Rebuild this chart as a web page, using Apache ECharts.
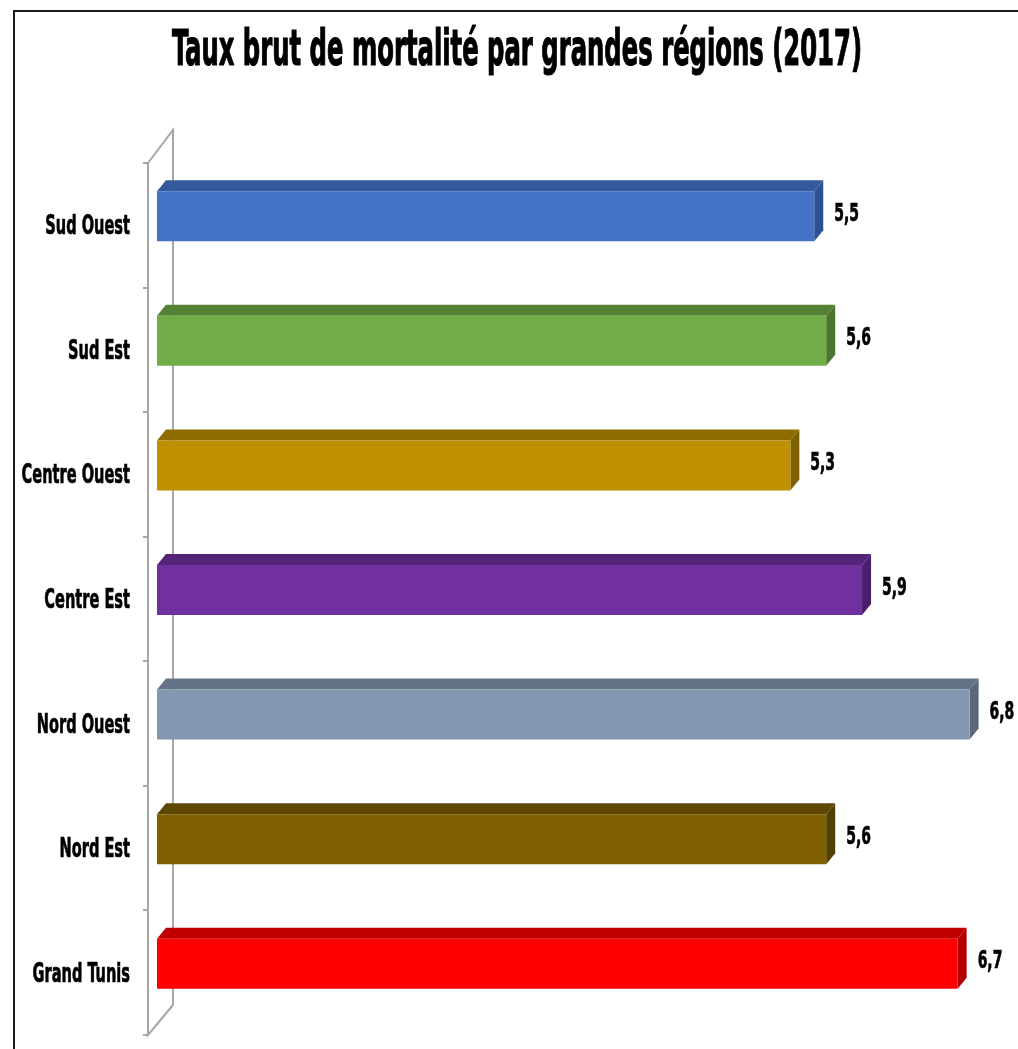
<!DOCTYPE html>
<html>
<head>
<meta charset="utf-8">
<script src="https://cdn.jsdelivr.net/npm/echarts@6/dist/echarts.min.js"></script>
<style>html,body{margin:0;padding:0;background:#fff}#c{width:1018px;height:1049px}</style>
</head>
<body>
<div id="c"></div>
<script>
// ---- data ----
const title = 'Taux brut de mortalité par grandes régions (2017)';
const categories = ['Sud Ouest', 'Sud Est', 'Centre Ouest', 'Centre Est', 'Nord Ouest', 'Nord Est', 'Grand Tunis'];
const values = [5.5, 5.6, 5.3, 5.9, 6.8, 5.6, 6.7];
// ---- palette ----
const frontColors = ['#4472C4', '#70AD47', '#BF9000', '#7030A0', '#8497B0', '#7F6000', '#FF0000'];
const topColors   = ['#34599C', '#548235', '#8F6C00', '#53247A', '#637286', '#5E4700', '#C00000'];
const sideColors  = ['#2E5090', '#4C7630', '#7F6000', '#4A1F6E', '#5A687A', '#524000', '#B00000'];

const FONT = '"Liberation Sans Narrow","DejaVu Sans Condensed","Liberation Sans",sans-serif';
const DX = 9, DY = 11;
const WALL = '#A6A6A6';

const chart = echarts.init(document.getElementById('c'), null, {renderer: 'canvas'});

chart.setOption({
  animation: false,
  backgroundColor: '#fff',
  graphic: [
    {type: 'line', shape: {x1: 14, y1: 11, x2: 1018, y2: 11}, style: {stroke: '#1a1a1a', lineWidth: 2}},
    {type: 'line', shape: {x1: 14, y1: 10, x2: 14, y2: 1049}, style: {stroke: '#1a1a1a', lineWidth: 2}},
    {type: 'text', x: 517, y: 52, scaleX: 0.54, style: {
      text: title, font: 'bold 50px ' + FONT, fill: '#000', textAlign: 'center', textVerticalAlign: 'middle',
      stroke: '#000', lineWidth: 1.2}}
  ],
  grid: {left: 157, top: 163, bottom: 14, right: 24.5, containLabel: false},
  xAxis: {type: 'value', min: 0, max: 7, show: false},
  yAxis: {
    type: 'category', data: categories, inverse: true,
    axisLine: {show: false}, axisTick: {show: false}, axisLabel: {show: false}, splitLine: {show: false}
  },
  series: [
    {
      type: 'custom', z: 1, silent: true,
      data: [[0, 0]],
      renderItem: function (params, api) {
        const cs = params.coordSys;
        const fx = cs.x - 9, bx = cs.x + 16;
        const n = categories.length;
        const children = [{
          type: 'polyline',
          shape: {points: [[bx, cs.y + cs.height - 30], [fx, cs.y + cs.height], [fx, cs.y], [bx, cs.y - 33], [bx, cs.y + cs.height - 30]]},
          style: {stroke: WALL, lineWidth: 2, fill: null}
        }];
        for (let k = 0; k <= n; k++) {
          const ty = Math.round(cs.y + k * cs.height / n);
          children.push({type: 'line', shape: {x1: fx - 5, y1: ty, x2: fx, y2: ty}, style: {stroke: WALL, lineWidth: 2}});
        }
        return {type: 'group', children: children};
      }
    },
    {
      type: 'custom', z: 3, silent: true,
      data: values.map((v, i) => [v, i]),
      renderItem: function (params, api) {
        const v = api.value(0), idx = api.value(1);
        const i = params.dataIndex;
        const p0 = api.coord([0, idx]);
        const p1 = api.coord([v, idx]);
        const cy = p0[1];
        const x0 = p0[0], x1 = p1[0];
        const top = cy - 34, bot = cy + 16;
        return {
          type: 'group',
          children: [
            {type: 'polygon', shape: {points: [[x0, top], [x0 + DX, top - DY], [x1 + DX, top - DY], [x1, top]]},
              style: {fill: topColors[i]}},
            {type: 'polygon', shape: {points: [[x1, top], [x1 + DX, top - DY], [x1 + DX, bot - DY], [x1, bot]]},
              style: {fill: sideColors[i]}},
            {type: 'rect', shape: {x: x0, y: top, width: x1 - x0, height: bot - top},
              style: {fill: frontColors[i]}},
            {type: 'text', x: x1 + DX + 11, y: cy - 11, scaleX: 0.62, style: {
              text: v.toFixed(1).replace('.', ','), font: 'bold 25px ' + FONT, fill: '#000',
              textAlign: 'left', textVerticalAlign: 'middle', stroke: '#000', lineWidth: 0.7}},
            {type: 'text', x: params.coordSys.x - 27, y: cy + 2, scaleX: 0.6, style: {
              text: categories[i], font: 'bold 27px ' + FONT, fill: '#000',
              textAlign: 'right', textVerticalAlign: 'middle', stroke: '#000', lineWidth: 0.7}}
          ]
        };
      }
    }
  ]
});
</script>
</body>
</html>
